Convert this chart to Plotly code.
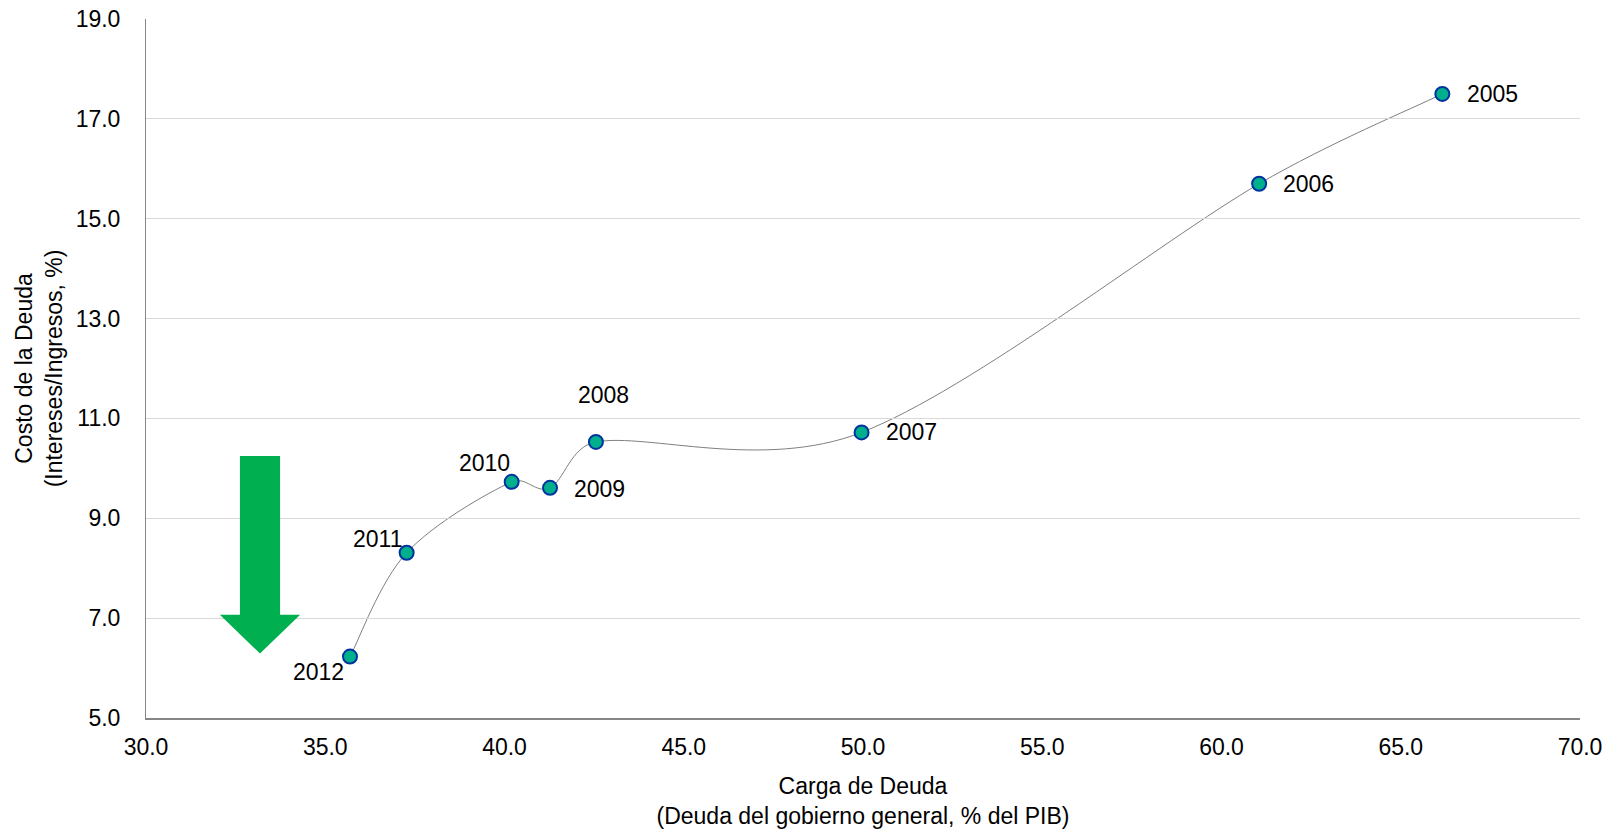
import math
import plotly.graph_objects as go

years = ["2005", "2006", "2007", "2008", "2009", "2010", "2011", "2012"]
debt = [66.16, 61.05, 49.96, 42.55, 41.27, 40.20, 37.27, 35.69]
cost = [17.50, 15.70, 10.72, 10.53, 9.61, 9.73, 8.31, 6.23]

x_range = [30, 70]
y_range = [5, 19]

# label placement: (xanchor, yanchor, xshift, yshift)
label_pos = {
    "2005": ("left", "middle", 23, 0),
    "2006": ("left", "middle", 22, 0),
    "2007": ("left", "middle", 22, 0),
    "2008": ("center", "middle", 8, 47),
    "2009": ("left", "middle", 22, -1),
    "2010": ("right", "middle", 0, 19),
    "2011": ("right", "middle", -3, 14),
    "2012": ("right", "middle", -4, -15),
}

FONT = "Arial, Liberation Sans, sans-serif"
FS = 23
W, H = 1616, 831
ML, MR, MT, MB = 146, 36, 19, 113

# pixel scale (for shape-aware smoothing of the connecting line)
sx = (W - ML - MR) / (x_range[1] - x_range[0])
sy = (H - MT - MB) / (y_range[1] - y_range[0])


def clamp(v, seg_len, frac=0.4):
    vx, vy = v[0] * sx, v[1] * sy
    ln = math.hypot(vx, vy)
    lim = seg_len * frac
    if ln > lim and ln > 0:
        f = lim / ln
        return (v[0] * f, v[1] * f)
    return v


# Smoothed connecting line (spreadsheet-style Bezier) through the data points
pts = list(zip(debt, cost))
n = len(pts)
path = f"M {pts[0][0]},{pts[0][1]}"
for i in range(n - 1):
    p0 = pts[i - 1] if i > 0 else pts[i]
    p1 = pts[i]
    p2 = pts[i + 1]
    p3 = pts[i + 2] if i + 2 < n else pts[i + 1]
    seg = math.hypot((p2[0] - p1[0]) * sx, (p2[1] - p1[1]) * sy)
    t1 = clamp(((p2[0] - p0[0]) / 6, (p2[1] - p0[1]) / 6), seg)
    t2 = clamp(((p3[0] - p1[0]) / 6, (p3[1] - p1[1]) / 6), seg)
    c1 = (p1[0] + t1[0], p1[1] + t1[1])
    c2 = (p2[0] - t2[0], p2[1] - t2[1])
    path += f" C {c1[0]:.4f},{c1[1]:.4f} {c2[0]:.4f},{c2[1]:.4f} {p2[0]},{p2[1]}"

fig = go.Figure()
fig.add_shape(type="path", path=path, xref="x", yref="y",
              line=dict(color="#7F7F7F", width=1), layer="below")

fig.add_trace(go.Scatter(
    x=debt, y=cost, mode="markers",
    marker=dict(size=14, color="#00B08C", line=dict(color="#0033A0", width=2)),
    hoverinfo="text", text=years, showlegend=False,
))

for yr, xv, yv in zip(years, debt, cost):
    xa, ya, xs, ys = label_pos[yr]
    fig.add_annotation(x=xv, y=yv, text=yr, showarrow=False,
                       xanchor=xa, yanchor=ya, xshift=xs, yshift=ys,
                       font=dict(family=FONT, size=FS, color="#000000"))

# green down arrow
arrow_path = ("M 32.62 10.25 L 33.74 10.25 L 33.74 7.07 L 34.30 7.07 "
              "L 33.18 6.29 L 32.06 7.07 L 32.62 7.07 Z")
fig.add_shape(type="path", path=arrow_path, xref="x", yref="y",
              fillcolor="#00B050", line=dict(width=0), layer="above")

fig.update_layout(
    width=W, height=H,
    margin=dict(l=ML, r=MR, t=MT, b=MB),
    paper_bgcolor="white", plot_bgcolor="white",
    font=dict(family=FONT, size=FS, color="#000000"),
    xaxis=dict(
        range=x_range, dtick=5, tick0=30, tickformat=".1f",
        showgrid=False, zeroline=False, automargin=False,
        showline=True, linecolor="#868686", linewidth=1.5,
        ticks="outside", ticklen=8, tickcolor="rgba(0,0,0,0)",
        title=dict(text="Carga de Deuda<br>(Deuda del gobierno general, % del PIB)",
                   font=dict(size=FS), standoff=19),
    ),
    yaxis=dict(
        range=y_range, dtick=2, tick0=5, tickformat=".1f",
        showgrid=True, gridcolor="#D9D9D9", gridwidth=1,
        zeroline=False, automargin=False,
        showline=True, linecolor="#868686", linewidth=1,
        ticks="outside", ticklen=20, tickcolor="rgba(0,0,0,0)",
        title=dict(text="Costo de la Deuda<br>(Intereses/Ingresos, %)",
                   font=dict(size=FS), standoff=6),
    ),
)

fig.write_html("out.html")
